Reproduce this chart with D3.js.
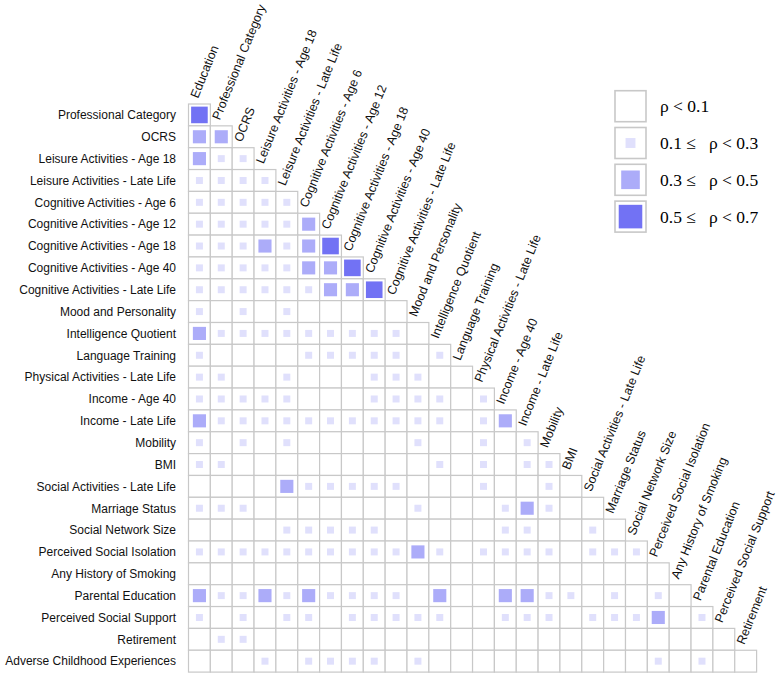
<!DOCTYPE html>
<html>
<head>
<meta charset="utf-8">
<script src="https://cdn.jsdelivr.net/npm/d3@7"></script>
<style>
  html, body { margin: 0; padding: 0; background: #fff; }
  svg { display: block; }
</style>
</head>
<body>
<svg id="chart" width="778" height="673"></svg>
<script>
// Column variables (x axis, diagonal labels)
const columns = [
  "Education", "Professional Category", "OCRS",
  "Leisure Activities - Age 18", "Leisure Activities - Late Life",
  "Cognitive Activities - Age 6", "Cognitive Activities - Age 12",
  "Cognitive Activities - Age 18", "Cognitive Activities - Age 40",
  "Cognitive Activities - Late Life", "Mood and Personality",
  "Intelligence Quotient", "Language Training",
  "Physical Activities - Late Life", "Income - Age 40", "Income - Late Life",
  "Mobility", "BMI", "Social Activities - Late Life", "Marriage Status",
  "Social Network Size", "Perceived Social Isolation",
  "Any History of Smoking", "Parental Education",
  "Perceived Social Support", "Retirement"
];
// Row variables (y axis labels)
const rowNames = [
  "Professional Category", "OCRS",
  "Leisure Activities - Age 18", "Leisure Activities - Late Life",
  "Cognitive Activities - Age 6", "Cognitive Activities - Age 12",
  "Cognitive Activities - Age 18", "Cognitive Activities - Age 40",
  "Cognitive Activities - Late Life", "Mood and Personality",
  "Intelligence Quotient", "Language Training",
  "Physical Activities - Late Life", "Income - Age 40", "Income - Late Life",
  "Mobility", "BMI", "Social Activities - Late Life", "Marriage Status",
  "Social Network Size", "Perceived Social Isolation",
  "Any History of Smoking", "Parental Education",
  "Perceived Social Support", "Retirement", "Adverse Childhood Experiences"
];
// Correlation class per cell: 0: rho<0.1, 1: 0.1-0.3, 2: 0.3-0.5, 3: 0.5-0.7
const levels = [
  [3],
  [2,2],
  [2,1,1],
  [1,1,1,1],
  [1,1,1,1,1],
  [1,1,1,1,1,2],
  [1,1,1,2,1,2,3],
  [1,1,1,1,1,2,2,3],
  [1,1,1,1,1,1,2,2,3],
  [1,0,1,0,1,0,0,0,0,0],
  [2,1,1,1,1,1,1,1,1,1,0],
  [1,0,0,0,0,1,1,1,1,1,0,1],
  [1,1,0,0,1,0,0,0,1,1,1,0,0],
  [1,1,1,1,1,0,0,0,1,1,1,1,0,1],
  [2,1,1,1,1,1,1,1,1,1,1,1,0,1,2],
  [1,0,1,0,1,0,0,0,0,0,1,0,0,1,0,1],
  [1,1,0,0,0,0,0,0,0,0,0,1,0,1,0,1,1],
  [0,0,0,0,2,1,1,1,1,1,0,0,0,1,0,0,1,0],
  [1,1,1,0,0,0,0,0,0,0,1,0,0,0,1,2,1,0,0],
  [0,0,0,0,1,1,1,1,1,0,0,0,0,0,1,1,0,0,1,0],
  [1,1,1,1,1,1,1,1,1,1,2,1,0,1,1,1,1,0,1,1,1],
  [0,0,0,0,0,0,0,0,0,0,0,0,0,0,0,0,0,0,0,0,0,0],
  [2,1,1,2,1,2,1,1,1,1,0,2,0,0,2,2,1,1,0,1,0,1,0],
  [1,0,1,0,1,1,0,1,1,1,1,1,0,0,1,1,1,0,1,1,1,2,0,1],
  [0,1,1,0,0,0,0,0,0,0,0,0,0,0,0,0,0,0,0,0,0,0,0,0,0],
  [0,0,0,1,0,1,1,1,1,0,1,0,0,0,0,0,0,0,0,0,0,1,0,1,0,0]
];
const levelClasses = [0, 1, 2, 3];
const legendLabels = ["\u03C1 < 0.1", "0.1 \u2264   \u03C1 < 0.3", "0.3 \u2264   \u03C1 < 0.5", "0.5 \u2264   \u03C1 < 0.7"];

const svg = d3.select("#chart");
const cell = 21.85, gx0 = 188.5, gy0 = 104;

const x = d3.scaleBand().domain(columns).range([gx0, gx0 + columns.length * cell]).padding(0);
const y = d3.scaleBand().domain(rowNames).range([gy0, gy0 + rowNames.length * cell]).padding(0);
const sizeFrac = d3.scaleOrdinal().domain(levelClasses).range([0, 0.32, 0.6, 0.76]);
const color = d3.scaleOrdinal().domain(levelClasses).range(["none", "#e0e0fc", "#acacf9", "#7272f4"]);

const cells = [];
levels.forEach((row, r) => row.forEach((lv, c) => cells.push({row: rowNames[r], col: columns[c], lv})));

const g = svg.append("g");
g.selectAll("rect.cell").data(cells).join("rect")
  .attr("class", "cell")
  .attr("x", d => x(d.col)).attr("y", d => y(d.row))
  .attr("width", x.bandwidth()).attr("height", y.bandwidth())
  .attr("fill", "#fff").attr("stroke", "#c8c8c8").attr("stroke-width", 1.2);

g.selectAll("rect.mark").data(cells.filter(d => d.lv > 0)).join("rect")
  .attr("class", "mark")
  .attr("x", d => x(d.col) + x.bandwidth() * (1 - sizeFrac(d.lv)) / 2)
  .attr("y", d => y(d.row) + y.bandwidth() * (1 - sizeFrac(d.lv)) / 2)
  .attr("width", d => x.bandwidth() * sizeFrac(d.lv))
  .attr("height", d => y.bandwidth() * sizeFrac(d.lv))
  .attr("fill", d => color(d.lv));

// Row labels
svg.append("g").selectAll("text").data(rowNames).join("text")
  .attr("x", 176).attr("y", d => y(d) + y.bandwidth() / 2 + 4.3)
  .attr("text-anchor", "end")
  .attr("font-family", "Liberation Sans, Arial, sans-serif")
  .attr("font-size", 12).attr("fill", "#111")
  .text(d => d);

// Column labels (diagonal)
svg.append("g").selectAll("text").data(columns).join("text")
  .attr("transform", (d, i) => `translate(${x(d) + x.bandwidth() / 2 - 1.5},${y(rowNames[i]) - 5}) rotate(-68)`)
  .attr("font-family", "Liberation Sans, Arial, sans-serif")
  .attr("font-size", 12.5).attr("fill", "#111")
  .text(d => d);

// Legend
const lgSize = 31, lgX = 615, lgY = 90.7, lgStep = 36.8;
const lg = svg.append("g");
const items = lg.selectAll("g").data(levelClasses).join("g")
  .attr("transform", (d, i) => `translate(${lgX},${lgY + i * lgStep})`);
items.append("rect").attr("width", lgSize).attr("height", lgSize)
  .attr("fill", "#fff").attr("stroke", "#c8c8c8").attr("stroke-width", 1.6);
items.filter(d => d > 0).append("rect")
  .attr("x", d => lgSize * (1 - sizeFrac(d)) / 2).attr("y", d => lgSize * (1 - sizeFrac(d)) / 2)
  .attr("width", d => lgSize * sizeFrac(d)).attr("height", d => lgSize * sizeFrac(d))
  .attr("fill", d => color(d));
items.append("text")
  .attr("x", 45).attr("y", lgSize / 2 + 6)
  .attr("font-family", "Liberation Serif, Times New Roman, serif")
  .attr("font-size", 17.5).attr("fill", "#000")
  .style("white-space", "pre")
  .text((d, i) => legendLabels[i]);
</script>
</body>
</html>
